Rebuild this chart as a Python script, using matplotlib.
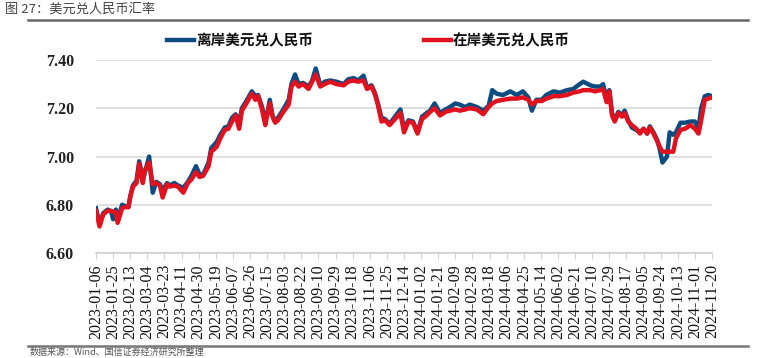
import pandas as pd
import matplotlib.pyplot as plt
from matplotlib.lines import Line2D

start = pd.Timestamp("2023-01-06")

days = [0, 4, 8, 13, 17, 19, 22, 24, 29, 32, 36, 38, 41, 45, 48, 52, 54, 59, 63, 67,
        71, 74, 79, 82, 87, 91, 97, 102, 106, 111, 115, 119, 125, 128, 134, 138, 143, 147, 151, 155,
        159, 162, 167, 173, 177, 180, 184, 188, 190, 193, 196, 199, 202, 208, 214, 217, 221, 225, 230, 236,
        240, 244, 249, 254, 260, 267, 275, 280, 286, 291, 297, 301, 306, 310, 313, 317, 321, 326, 332, 338,
        342, 347, 352, 357, 362, 367, 371, 376, 382, 388, 393, 399, 404, 410, 415, 423, 430, 436, 440, 445,
        452, 460, 467, 474, 480, 484, 489, 495, 500, 508, 515, 523, 530, 537, 541, 549, 554, 560, 563, 567,
        570, 573, 576, 580, 584, 587, 591, 595, 600, 604, 608, 612, 615, 619, 623, 626, 629, 634, 637, 641,
        644, 649, 654, 660, 665, 669, 672, 676, 680, 684]

cny = [6.775, 6.71, 6.76, 6.775, 6.775, 6.77, 6.77, 6.725, 6.785, 6.79, 6.79, 6.83, 6.875, 6.89, 6.97, 6.89, 6.94, 6.975, 6.885, 6.89,
       6.88, 6.83, 6.885, 6.875, 6.88, 6.875, 6.85, 6.89, 6.905, 6.935, 6.915, 6.92, 6.96, 7.02, 7.04, 7.075, 7.11, 7.115, 7.145, 7.17,
       7.115, 7.19, 7.22, 7.26, 7.235, 7.25, 7.20, 7.13, 7.17, 7.22, 7.165, 7.14, 7.15, 7.185, 7.215, 7.29, 7.31, 7.29, 7.30, 7.28,
       7.31, 7.34, 7.29, 7.30, 7.31, 7.30, 7.295, 7.31, 7.315, 7.31, 7.315, 7.28, 7.29, 7.255, 7.215, 7.145, 7.15, 7.13, 7.155, 7.18,
       7.10, 7.145, 7.14, 7.095, 7.155, 7.17, 7.185, 7.20, 7.17, 7.185, 7.19, 7.195, 7.19, 7.195, 7.20, 7.195, 7.175, 7.205, 7.22, 7.23,
       7.235, 7.24, 7.24, 7.245, 7.235, 7.215, 7.23, 7.23, 7.24, 7.25, 7.25, 7.255, 7.265, 7.27, 7.275, 7.275, 7.27, 7.275, 7.28, 7.225,
       7.27, 7.17, 7.145, 7.18, 7.165, 7.18, 7.145, 7.13, 7.115, 7.095, 7.115, 7.095, 7.12, 7.095, 7.065, 7.04, 7.02, 7.02, 7.02, 7.02,
       7.075, 7.11, 7.115, 7.13, 7.115, 7.095, 7.15, 7.235, 7.24, 7.245]

cnh = [6.785, 6.72, 6.765, 6.78, 6.77, 6.74, 6.78, 6.735, 6.80, 6.795, 6.79, 6.835, 6.88, 6.90, 6.98, 6.91, 6.93, 7.00, 6.85, 6.895,
       6.885, 6.86, 6.89, 6.88, 6.89, 6.88, 6.87, 6.895, 6.92, 6.96, 6.925, 6.925, 6.975, 7.035, 7.06, 7.09, 7.12, 7.125, 7.16, 7.175,
       7.14, 7.20, 7.23, 7.27, 7.25, 7.255, 7.21, 7.15, 7.175, 7.235, 7.17, 7.145, 7.16, 7.195, 7.235, 7.30, 7.34, 7.30, 7.305, 7.29,
       7.315, 7.365, 7.295, 7.31, 7.315, 7.31, 7.30, 7.32, 7.325, 7.315, 7.335, 7.285, 7.295, 7.26, 7.22, 7.16, 7.155, 7.135, 7.165, 7.195,
       7.115, 7.15, 7.145, 7.10, 7.165, 7.18, 7.19, 7.22, 7.18, 7.195, 7.205, 7.22, 7.215, 7.205, 7.215, 7.205, 7.19, 7.21, 7.275, 7.26,
       7.255, 7.27, 7.255, 7.27, 7.245, 7.19, 7.235, 7.235, 7.255, 7.27, 7.265, 7.275, 7.28, 7.30, 7.31, 7.295, 7.29, 7.29, 7.30, 7.24,
       7.275, 7.18, 7.15, 7.185, 7.17, 7.19, 7.15, 7.12, 7.11, 7.10, 7.115, 7.095, 7.125, 7.10, 7.07, 7.03, 6.975, 7.00, 7.10, 7.09,
       7.10, 7.14, 7.14, 7.145, 7.145, 7.115, 7.20, 7.25, 7.255, 7.25]

tick_dates = pd.date_range("2023-01-06", "2024-11-20", freq="19D")
dates = [start + pd.Timedelta(days=d) for d in days]

blue = "#0D4C80"
red = "#E1121F"
cjk = ["Noto Sans CJK SC", "DejaVu Sans"]

fig = plt.figure(figsize=(7.63, 3.58), dpi=100)
ax = fig.add_axes([96 / 763, 1 - 253 / 358, (712 - 96) / 763, (253 - 60) / 358])

ax.plot(dates, cnh, color=blue, lw=3.2, solid_joinstyle="round")
ax.plot(dates, cny, color=red, lw=3.2, solid_joinstyle="round")

ax.set_xlim(tick_dates[0], tick_dates[-1])
ax.set_ylim(6.60, 7.40)
ax.set_yticks([6.60, 6.80, 7.00, 7.20, 7.40])
ax.set_yticklabels(["%.2f" % v for v in ax.get_yticks()], family="Liberation Serif",
                   fontsize=11.5, fontweight="bold", color="#222")
ax.set_xticks(tick_dates)
ax.set_xticklabels([d.strftime("%Y-%m-%d") for d in tick_dates], rotation=90,
                   family="Liberation Serif", fontsize=11.5, color="#111")
ax.tick_params(axis="y", length=0, pad=16)
ax.tick_params(axis="x", length=4, color="#d0d0d0", pad=4)
ax.grid(axis="y", color="#d9d9d9", lw=1.2)
ax.set_axisbelow(True)
for s in ["top", "right", "left"]:
    ax.spines[s].set_visible(False)
ax.spines["bottom"].set_color("#d0d0d0")
ax.spines["bottom"].set_linewidth(1.2)

# legend
fig.add_artist(Line2D([167 / 763, 194 / 763], [1 - 40 / 358] * 2, color=blue, lw=3.2))
fig.text(196 / 763, 1 - 40 / 358, "离岸美元兑人民币", family=cjk, fontsize=10.5,
         fontweight="bold", va="center", ha="left", color="#111")
fig.add_artist(Line2D([424 / 763, 451 / 763], [1 - 40 / 358] * 2, color=red, lw=3.2))
fig.text(453 / 763, 1 - 40 / 358, "在岸美元兑人民币", family=cjk, fontsize=10.5,
         fontweight="bold", va="center", ha="left", color="#111")

# title, rules and source
fig.text(5 / 763, 1 - 9 / 358, "图 27：美元兑人民币汇率", family=cjk, fontsize=9.5,
         va="center", ha="left", color="#444")
fig.add_artist(Line2D([28 / 763, 748 / 763], [1 - 20 / 358] * 2, color="#666", lw=1.8))
fig.add_artist(Line2D([28 / 763, 748 / 763], [1 - 346 / 358] * 2, color="#777", lw=1.8))
fig.text(30 / 763, 1 - 357 / 358, "数据来源：Wind、国信证券经济研究所整理", family=cjk,
         fontsize=6.5, va="bottom", ha="left", color="#555")

fig.savefig("out.png", dpi=100)
